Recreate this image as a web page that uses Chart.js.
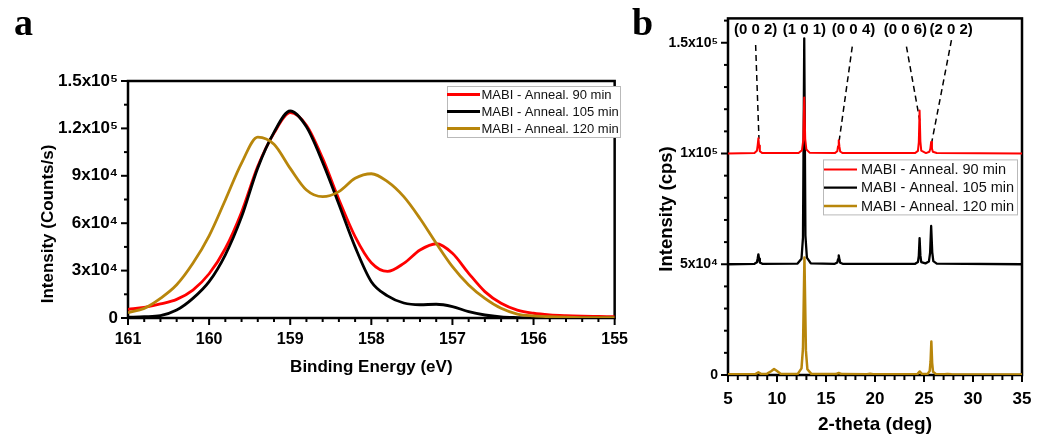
<!DOCTYPE html>
<html>
<head>
<meta charset="utf-8">
<title>MABI XPS and XRD</title>
<script src="https://cdn.jsdelivr.net/npm/chart.js@4.4.1/dist/chart.umd.min.js"></script>
<style>
  body { margin: 0; background: #fff; }
  #wrap { position: relative; width: 1049px; height: 437px; overflow: hidden; background: #fff; }
  canvas { position: absolute; top: 0; }
  #xps { left: 0; }
  #xrd { left: 640px; }
  .tag { position: absolute; top: 3px; font: bold 38px/38px "Liberation Serif", "Times New Roman", serif; color: #000; }
</style>
</head>
<body>
<div id="wrap">
  <canvas id="xps" width="640" height="437"></canvas>
  <canvas id="xrd" width="409" height="437"></canvas>
  <div class="tag" style="left:14px">a</div>
  <div class="tag" style="left:632px">b</div>
</div>
<script>
// series names / colours shared by both panels
const seriesNames = ['MABI - Anneal. 90 min', 'MABI - Anneal. 105 min', 'MABI - Anneal. 120 min'];
const seriesColors = ['#ff0000', '#000000', '#b8860b'];

// panel a : XPS Bi 4f region
const xpsEnergy = [161.0, 160.8, 160.6, 160.4, 160.2, 160.0, 159.8, 159.6, 159.4, 159.2, 159.0, 158.8, 158.6, 158.4, 158.2, 158.0,
                   157.8, 157.6, 157.4, 157.2, 157.0, 156.8, 156.6, 156.4, 156.2, 156.0, 155.8, 155.6, 155.4, 155.2, 155.0];
const xps90  = [5500, 6700, 8900, 11800, 17700, 28000, 44000, 67000, 96000, 117000, 130000, 122000, 101000, 75000, 51500, 35000,
                29500, 34600, 43000, 47000, 41000, 28300, 16700, 9300, 5000, 3000, 2000, 1500, 1200, 1000, 800];
const xps105 = [500, 800, 1500, 5000, 12400, 23000, 40000, 64000, 95000, 117500, 131000, 121000, 98500, 72000, 45000, 23000,
                14000, 9500, 8400, 8700, 7200, 4000, 1900, 700, 300, 100, 0, 0, 0, 0, 0];
const xps120 = [3400, 6100, 12400, 21000, 34600, 52000, 74700, 98000, 114500, 110000, 94700, 81000, 76800, 80000, 88400, 91300,
                86300, 76800, 63000, 47300, 32500, 20900, 12400, 6100, 2500, 1300, 800, 500, 300, 200, 200];
const xpsTickValues = [0, 30000, 60000, 90000, 120000, 150000];
const xpsTickLabels = ['0', '3x10⁴', '6x10⁴', '9x10⁴', '1.2x10⁵', '1.5x10⁵'];

// panel b : XRD, curves stacked with an offset
const xrdOffset = [100000, 50000, 0];
const xrd90Theta  = [5, 7.7, 7.95, 8.03, 8.1, 8.17, 8.25, 8.5, 12.2, 12.55, 12.68, 12.78, 12.88, 13.0, 13.35, 15.9, 16.15, 16.23,
                     16.3, 16.37, 16.45, 16.7, 24.1, 24.38, 24.47, 24.55, 24.63, 24.72, 25.2, 25.55, 25.65, 25.73, 25.81, 25.9, 26.3, 35];
const xrd90Int    = [0, 200, 1200, 3800, 6900, 3600, 1000, 200, 200, 1500, 6000, 25300, 6500, 1800, 300, 200, 1000, 3300,
                     6000, 3100, 900, 200, 200, 1200, 5000, 19400, 5500, 1300, 200, 800, 2200, 5200, 2300, 800, 200, 0];
const xrd105Theta = [5, 7.7, 7.95, 8.03, 8.1, 8.17, 8.25, 8.5, 12.1, 12.5, 12.65, 12.78, 12.9, 13.05, 13.45, 15.9, 16.15, 16.23,
                     16.3, 16.37, 16.45, 16.7, 24.1, 24.38, 24.47, 24.55, 24.63, 24.72, 25.15, 25.5, 25.62, 25.73, 25.84, 25.95, 26.3, 35];
const xrd105Int   = [0, 200, 900, 2600, 4500, 2500, 800, 200, 300, 2500, 12000, 102000, 13000, 3000, 400, 200, 800, 2300,
                     4000, 2200, 700, 200, 200, 1000, 3800, 11800, 4000, 1000, 400, 1200, 5000, 17300, 5500, 1400, 300, 0];
const xrd120Theta = [5, 7.8, 8.1, 8.4, 9.0, 9.4, 9.7, 10.0, 10.4, 12.1, 12.5, 12.65, 12.8, 12.95, 13.1, 13.5, 16.0, 16.3,
                     16.6, 19.2, 19.5, 19.8, 24.3, 24.57, 24.8, 25.35, 25.58, 25.67, 25.75, 25.83, 25.92, 26.2, 27.1, 27.4, 27.8, 35];
const xrd120Int   = [300, 400, 1200, 400, 600, 1700, 2700, 1800, 500, 400, 3000, 12000, 53000, 11000, 2600, 500, 400, 900,
                     400, 300, 600, 300, 300, 1600, 400, 400, 1800, 6000, 15100, 5500, 1500, 500, 300, 500, 300, 200];
const xrdTickValues = [0, 50000, 100000, 150000];
const xrdTickLabels = ['0', '5x10⁴', '1x10⁵', '1.5x10⁵'];

// reflection labels and their dashed leader lines
const hklLabels = ['(0 0 2)', '(1 0 1)', '(0 0 4)', '(0 0 6)', '(2 0 2)'];
const hklLabelX = [7.82, 12.79, 17.81, 23.1, 27.77];
const hklLabelY = 156000;
const hklLeaderTop    = [[7.82, 149000], null, [17.68, 148300], [23.21, 148300], [27.8, 151200]];
const hklLeaderBottom = [[8.16, 106600], null, [16.35, 105900], [24.57, 114800], [25.76, 104400]];

Chart.defaults.font.family = '"Liberation Sans", Arial, sans-serif';
Chart.defaults.color = '#000';

function pickLabel(values, labels) {
    return v => {
        const k = values.findIndex(t => Math.abs(t - v) < 1);
        return k < 0 ? '' : labels[k];
    };
}

// frame, minor/major ticks, rotated y title, inset legend, hkl text
const decor = {
    id: 'decor',
    beforeDatasetsDraw(chart, args, o) {
        const {ctx, chartArea: a} = chart;
        ctx.save();
        ctx.strokeStyle = '#000';
        ctx.lineWidth = o.tickWidth;
        o.ticks.forEach(t => {
            const s = chart.scales[t.axis];
            const lo = Math.min(s.min, s.max), hi = Math.max(s.min, s.max);
            const n = Math.floor((hi - lo) / t.minor + 1e-6);
            for (let i = 0; i <= n; i++) {
                const v = lo + i * t.minor;
                const r = v / t.major;
                const len = Math.abs(r - Math.round(r)) < 1e-6 ? t.majorLen : t.minorLen;
                const p = s.getPixelForValue(v);
                ctx.beginPath();
                if (s.isHorizontal()) { ctx.moveTo(p, a.bottom); ctx.lineTo(p, a.bottom + len); }
                else { ctx.moveTo(a.left, p); ctx.lineTo(a.left - len, p); }
                ctx.stroke();
            }
        });
        ctx.lineWidth = o.frameWidth;
        ctx.strokeRect(a.left, a.top, a.width, a.height);
        ctx.restore();
    },
    afterDraw(chart, args, o) {
        const {ctx, chartArea: a} = chart;
        ctx.save();
        ctx.fillStyle = '#000';
        ctx.font = o.yTitle.font;
        ctx.textAlign = 'center';
        ctx.textBaseline = 'middle';
        ctx.translate(o.yTitle.x, o.yTitle.y);
        ctx.rotate(-Math.PI / 2);
        ctx.fillText(o.yTitle.text, 0, 0);
        ctx.restore();

        // inset legend
        const L = o.legend;
        const bx = a.left + L.left, by = a.top + L.top;
        ctx.save();
        ctx.fillStyle = '#fff';
        ctx.fillRect(bx, by, L.width, L.height);
        ctx.strokeStyle = '#b9b9b9';
        ctx.lineWidth = 1;
        ctx.strokeRect(bx + 0.5, by + 0.5, L.width, L.height);
        ctx.font = L.font;
        ctx.textAlign = 'left';
        ctx.textBaseline = 'middle';
        seriesNames.forEach((name, i) => {
            const ds = chart.data.datasets[i];
            const y = by + L.first + i * L.rowH;
            ctx.strokeStyle = ds.borderColor;
            ctx.lineWidth = ds.borderWidth;
            ctx.beginPath();
            ctx.moveTo(bx + L.lineStart, y);
            ctx.lineTo(bx + L.lineStart + L.lineLen, y);
            ctx.stroke();
            ctx.fillStyle = '#111';
            ctx.fillText(name, bx + L.textStart, y + 0.5);
        });
        ctx.restore();

        if (o.hkl) {
            const sx = chart.scales.x, sy = chart.scales.y;
            ctx.save();
            ctx.fillStyle = '#000';
            ctx.font = o.hkl.font;
            ctx.textAlign = 'center';
            ctx.textBaseline = 'middle';
            hklLabels.forEach((t, i) => {
                ctx.fillText(t, sx.getPixelForValue(hklLabelX[i]), sy.getPixelForValue(hklLabelY));
            });
            ctx.restore();
        }
    }
};

// ---- panel a
const xpsSeries = [xps90, xps105, xps120];
new Chart(document.getElementById('xps'), {
    type: 'line',
    data: {
        datasets: seriesNames.map((name, i) => ({
            label: name,
            data: xpsEnergy.map((e, k) => ({x: e, y: xpsSeries[i][k]})),
            borderColor: seriesColors[i],
            borderWidth: 2.8,
            borderJoinStyle: 'round',
            pointRadius: 0,
            fill: false,
            cubicInterpolationMode: 'monotone',
            order: 2 - i
        }))
    },
    options: {
        responsive: false,
        animation: false,
        events: [],
        layout: { padding: { left: 38, top: 81, right: 16, bottom: 59 } },
        plugins: {
            legend: { display: false },
            tooltip: { enabled: false },
            decor: {
                tickWidth: 2,
                frameWidth: 2.5,
                ticks: [
                    { axis: 'x', major: 1, minor: 0.2, majorLen: 7, minorLen: 4 },
                    { axis: 'y', major: 30000, minor: 15000, majorLen: 7, minorLen: 4 }
                ],
                yTitle: { text: 'Intensity (Counts/s)', x: 48, y: 224, font: 'bold 17px "Liberation Sans", Arial, sans-serif' },
                legend: { left: 319, top: 5, width: 173, height: 51, first: 8.5, rowH: 17, lineStart: 0, lineLen: 33, textStart: 34.5,
                          font: '13px "Liberation Sans", Arial, sans-serif' }
            }
        },
        scales: {
            x: {
                type: 'linear', reverse: true, min: 155, max: 161,
                afterFit: s => { s.height = 60; },
                grid: { display: false, drawTicks: false },
                border: { display: false },
                ticks: { stepSize: 1, padding: 12, color: '#000', font: { size: 16, weight: 'bold' } },
                title: { display: true, text: 'Binding Energy (eV)', color: '#000', padding: { top: 0, bottom: 0 },
                         font: { size: 17, weight: 'bold' } }
            },
            y: {
                min: 0, max: 150000,
                afterFit: s => { s.width = 90; },
                afterBuildTicks: s => { s.ticks = xpsTickValues.map(v => ({value: v})); },
                grid: { display: false, drawTicks: false },
                border: { display: false },
                ticks: { padding: 10, color: '#000', font: { size: 17, weight: 'bold' },
                         callback: pickLabel(xpsTickValues, xpsTickLabels) }
            }
        }
    },
    plugins: [decor]
});

// ---- panel b
const xrdTheta = [xrd90Theta, xrd105Theta, xrd120Theta];
const xrdInt = [xrd90Int, xrd105Int, xrd120Int];
const xrdWidths = [2, 2.3, 2.5];
const xrdSets = seriesNames.map((name, i) => ({
    label: name,
    data: xrdTheta[i].map((t, k) => ({x: t, y: xrdInt[i][k] + xrdOffset[i]})),
    borderColor: seriesColors[i],
    borderWidth: xrdWidths[i],
    borderJoinStyle: 'round',
    pointRadius: 0,
    fill: false,
    tension: 0
}));
hklLeaderTop.forEach((p, i) => {
    if (!p) return;
    xrdSets.push({
        label: 'leader ' + hklLabels[i],
        data: [{x: p[0], y: p[1]}, {x: hklLeaderBottom[i][0], y: hklLeaderBottom[i][1]}],
        borderColor: '#000',
        borderWidth: 1.5,
        borderDash: [6, 4],
        pointRadius: 0,
        fill: false
    });
});

new Chart(document.getElementById('xrd'), {
    type: 'line',
    data: { datasets: xrdSets },
    options: {
        responsive: false,
        animation: false,
        events: [],
        layout: { padding: { left: 17, top: 16, right: 27, bottom: 1 } },
        plugins: {
            legend: { display: false },
            tooltip: { enabled: false },
            decor: {
                tickWidth: 2,
                frameWidth: 2.5,
                ticks: [
                    { axis: 'x', major: 5, minor: 1, majorLen: 7, minorLen: 5 },
                    { axis: 'y', major: 50000, minor: 10000, majorLen: 7, minorLen: 4 }
                ],
                yTitle: { text: 'Intensity (cps)', x: 27, y: 209, font: 'bold 18.5px "Liberation Sans", Arial, sans-serif' },
                legend: { left: 95, top: 141, width: 194, height: 55, first: 10, rowH: 18.3, lineStart: 1, lineLen: 33, textStart: 38,
                          font: '14.5px "Liberation Sans", Arial, sans-serif' },
                hkl: { font: 'bold 15px "Liberation Sans", Arial, sans-serif' }
            }
        },
        scales: {
            x: {
                type: 'linear', min: 5, max: 35,
                afterFit: s => { s.height = 61; },
                grid: { display: false, drawTicks: false },
                border: { display: false },
                ticks: { stepSize: 5, padding: 14, color: '#000', font: { size: 17, weight: 'bold' } },
                title: { display: true, text: '2-theta (deg)', color: '#000', padding: { top: 0, bottom: 0 },
                         font: { size: 19, weight: 'bold' } }
            },
            y: {
                min: 0, max: 161000,
                afterFit: s => { s.width = 71; },
                afterBuildTicks: s => { s.ticks = xrdTickValues.map(v => ({value: v})); },
                grid: { display: false, drawTicks: false },
                border: { display: false },
                ticks: { padding: 10, color: '#000', font: { size: 14, weight: 'bold' },
                         callback: pickLabel(xrdTickValues, xrdTickLabels) }
            }
        }
    },
    plugins: [decor]
});
</script>
</body>
</html>
